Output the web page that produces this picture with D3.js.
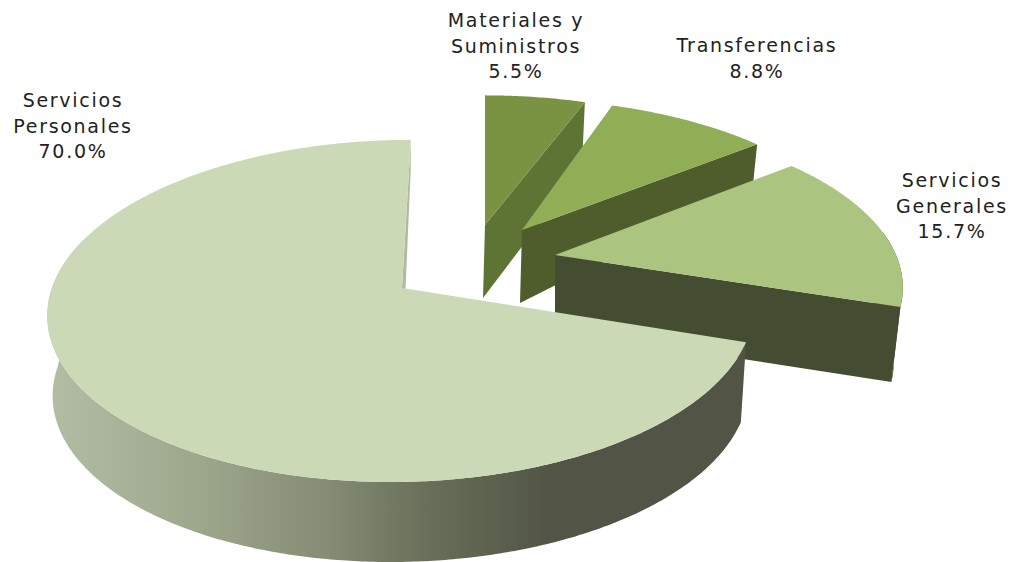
<!DOCTYPE html>
<html>
<head>
<meta charset="utf-8">
<script src="https://d3js.org/d3.v7.min.js"></script>
<style>
html,body{margin:0;padding:0;background:#fff;}
svg{display:block;}
text{font-family:"DejaVu Sans",sans-serif;fill:#222;}
</style>
</head>
<body>
<svg id="chart" width="1014" height="562"></svg>
<script>
// Data, in drawing order clockwise from twelve o'clock
const categories = ["Materiales y Suministros", "Transferencias", "Servicios Generales", "Servicios Personales"];
const values = [5.5, 8.8, 15.7, 70.0];
const labelLines = [["Materiales y", "Suministros"], ["Transferencias"], ["Servicios", "Generales"], ["Servicios", "Personales"]];

// Appearance
const faceColors = ["#7A9342", "#8FAE55", "#ABC480", "#CCD9B7"];
const wallColors = ["#5E7434", "#4F5D2C", "#444D31", "url(#wallGrad)"];
// Each exploded slice has its own perspective frame
const frames = [
  {ax:485, ay:225, r:332, sh:0,  ry:147, p:.134, d0:73, d1:8,  k:.99,  dx:-2},
  {ax:522, ay:230, r:336, sh:-13,ry:149, p:.134, d0:73, d1:50, k:.99,  dx:-2},
  {ax:555, ay:255, r:341, sh:-6, ry:159, p:.18,  d0:75, d1:0,  k:.974, dx:0},
  {ax:402, ay:288, r:350, sh:10, ry:168, p:.134, d0:80, d1:49, k:.985, dx:0}
];
const labelAnchors = [[516,27],[757,52],[952,187],[73,107]];
const fontSize = 19, letterSpacing = 1.7, lineHeight = 25.7;

const svg = d3.select("#chart");
const defs = svg.append("defs");
const grad = defs.append("linearGradient").attr("id","wallGrad")
  .attr("gradientUnits","userSpaceOnUse").attr("x1",50).attr("x2",550).attr("y1",0).attr("y2",0);
[[0,"#B3BDA4"],[.3,"#9DA78C"],[.55,"#858D75"],[.76,"#686E59"],[1,"#525545"]]
  .forEach(s=>grad.append("stop").attr("offset",s[0]).attr("stop-color",s[1]));

const arcs = d3.pie().sort(null).value(d=>d).startAngle(0).endAngle(2*Math.PI)(values);

function topPt(f,t,rad=1){
  const X=Math.sin(t)*rad, Y=Math.cos(t)*rad, w=1+f.p*Y;
  return [f.ax+(f.r*X+f.sh*Y)/w, f.ay-f.ry*Y/w, Y];
}
function bottomPt(f,t,rad=1){
  const q=topPt(f,t,rad), dep=f.d0-f.d1*Math.max(q[2],0);
  return [f.ax+(q[0]-f.ax)*f.k+f.dx, q[1]+dep];
}
const pathLine=d3.line().curve(d3.curveLinear);
function angles(a,b){
  const n=Math.max(2,Math.ceil((b-a)/0.01));
  return d3.range(n+1).map(i=>a+(b-a)*i/n);
}
function facePath(f,a){
  return pathLine([[f.ax,f.ay],...angles(a.startAngle,a.endAngle).map(t=>topPt(f,t))])+"Z";
}
function outerWall(f,a,b){
  const ts=angles(a,b);
  return pathLine([...ts.map(t=>topPt(f,t)),...ts.slice().reverse().map(t=>bottomPt(f,t))])+"Z";
}
function radialWall(f,t){
  const e=topPt(f,t), eb=bottomPt(f,t), cb=bottomPt(f,t,0);
  return pathLine([[f.ax,f.ay],e,eb,cb])+"Z";
}

const g=svg.append("g");
arcs.forEach((a,i)=>{
  const f=frames[i], col=wallColors[i];
  const isMain=i===arcs.length-1;
  const sl=g.append("g").attr("class","slice");
  // radial wall that looks toward the viewer
  sl.append("path").attr("d",radialWall(f,a.endAngle))
    .attr("fill",isMain?"#B0BA9F":col);
  // outer rim wall on the near half of the circle
  const lo=Math.max(a.startAngle,Math.PI/2-0.15), hi=Math.min(a.endAngle,3*Math.PI/2+0.3);
  if(hi>lo) sl.append("path").attr("d",outerWall(f,lo,hi)).attr("fill",col);
  sl.append("path").attr("d",facePath(f,a)).attr("fill",faceColors[i]);
});

const pct=d3.format(".1f");
const labels=svg.append("g").attr("font-size",fontSize).attr("letter-spacing",letterSpacing).attr("text-anchor","middle");
values.forEach((v,i)=>{
  const t=labels.append("text");
  const [x,y]=labelAnchors[i];
  [...labelLines[i],pct(v)+"%"].forEach((s,j)=>{
    t.append("tspan").attr("x",x).attr("y",y+j*lineHeight).text(s);
  });
});
</script>
</body>
</html>
